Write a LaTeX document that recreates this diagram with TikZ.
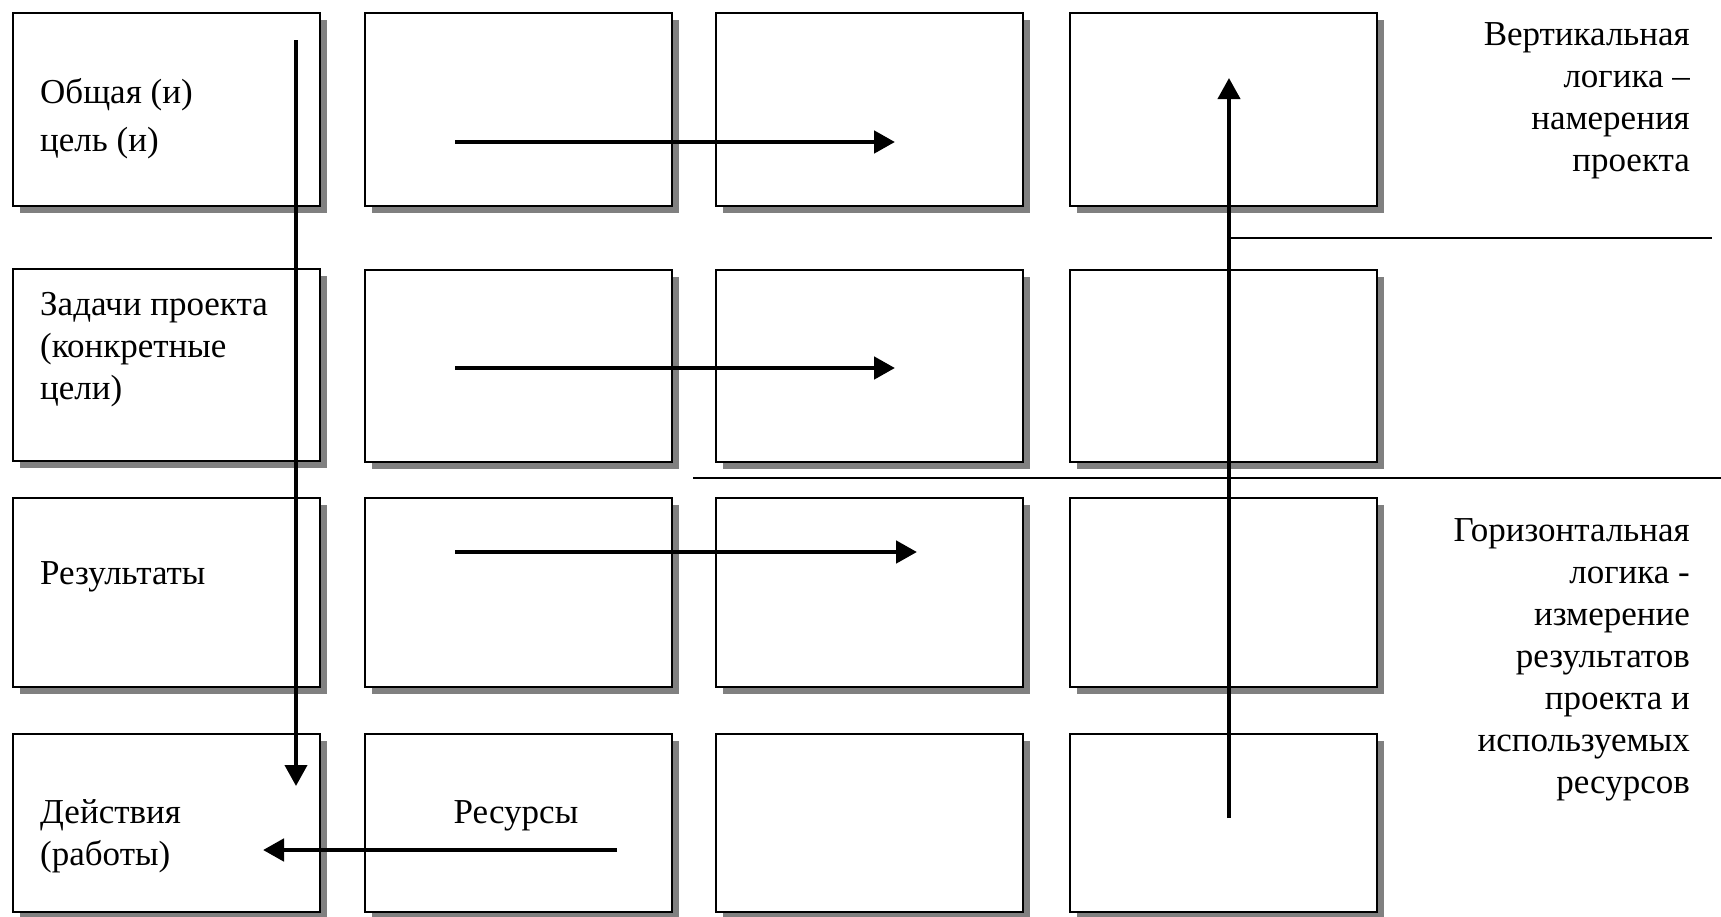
\documentclass[tikz,border=0pt]{standalone}
\usepackage{fontspec}
\setmainfont{Liberation Serif}
\usepackage{tikz}
\usetikzlibrary{arrows.meta, shadows}
\tikzset{
  cell/.style={rectangle, draw=black, line width=2.4pt, fill=white, anchor=north west,
               inner sep=0pt, minimum width=307pt,
               drop shadow={shadow xshift=7pt, shadow yshift=-7pt, fill=black!50, opacity=1}},
  lbl/.style={font=\fontsize{35}{42}\selectfont, inner sep=0pt},
  flow/.style={-{Triangle[length=21pt, width=22pt]}, line width=4.8pt},
  divider/.style={line width=2pt},
}

\begin{document}
\begin{tikzpicture}[x=1pt, y=-1pt, r1/.style={minimum height=193pt}, r2/.style={minimum height=192pt},
                    r3/.style={minimum height=189pt}, r4/.style={minimum height=178pt}]
  \useasboundingbox (0,0) rectangle (1721,916);
  % grid of cells
  \node[cell, r1] (a1) at (12,12)    {};
  \node[cell, r1] (b1) at (364,12)   {};
  \node[cell, r1] (c1) at (715,12)   {};
  \node[cell, r1] (d1) at (1069,12)  {};
  \node[cell, r2] (a2) at (12,268)   {};
  \node[cell, r2] (b2) at (364,269)  {};
  \node[cell, r2] (c2) at (715,269)  {};
  \node[cell, r2] (d2) at (1069,269) {};
  \node[cell, r3] (a3) at (12,497)   {};
  \node[cell, r3] (b3) at (364,497)  {};
  \node[cell, r3] (c3) at (715,497)  {};
  \node[cell, r3] (d3) at (1069,497) {};
  \node[cell, r4] (a4) at (12,733)   {};
  \node[cell, r4] (b4) at (364,733)  {};
  \node[cell, r4] (c4) at (715,733)  {};
  \node[cell, r4] (d4) at (1069,733) {};
  % row texts
  \node[lbl, anchor=west, align=left] (goal) at (40,119) {Общая (и)\\[6pt]цель (и)};
  \node[lbl, anchor=west, align=left] (tasks) at (40,350) {Задачи проекта\\(конкретные\\цели)};
  \node[lbl, anchor=west, align=left] (res) at (40,577) {Результаты};
  \node[lbl, anchor=west, align=left] (acts) at (40,836) {Действия\\(работы)};
  \node[lbl] (means) at (516,816) {Ресурсы};
  \node[lbl, anchor=east, align=right] (vlog) at (1690,101) {Вертикальная\\логика –\\намерения\\проекта};
  \node[lbl, anchor=east, align=right] (hlog) at (1690,660)
    {Горизонтальная\\логика -\\измерение\\результатов\\проекта и\\используемых\\ресурсов};
  % arrow ends
  \coordinate (dn0) at (296,40);   \coordinate (dn1) at (296,786);
  \coordinate (up0) at (1229,818); \coordinate (up1) at (1229,78);
  \coordinate (h1a) at (455,142);  \coordinate (h1b) at (895,142);
  \coordinate (h2a) at (455,368);  \coordinate (h2b) at (895,368);
  \coordinate (h3a) at (455,552);  \coordinate (h3b) at (917,552);
  \coordinate (h4a) at (617,850);  \coordinate (h4b) at (263,850);
  \coordinate (s1a) at (1229,238); \coordinate (s1b) at (1712,238);
  \coordinate (s2a) at (693,478);  \coordinate (s2b) at (1721,478);
  \draw[flow, line width=4pt] (dn0) -- (dn1);
  \draw[flow, line width=4pt] (up0) -- (up1);
  \draw[flow] (h1a) -- (h1b); \draw[flow] (h2a) -- (h2b);
  \draw[flow] (h3a) -- (h3b); \draw[flow] (h4a) -- (h4b);
  \draw[divider] (s1a) -- (s1b); \draw[divider] (s2a) -- (s2b);
\end{tikzpicture}
\end{document}
